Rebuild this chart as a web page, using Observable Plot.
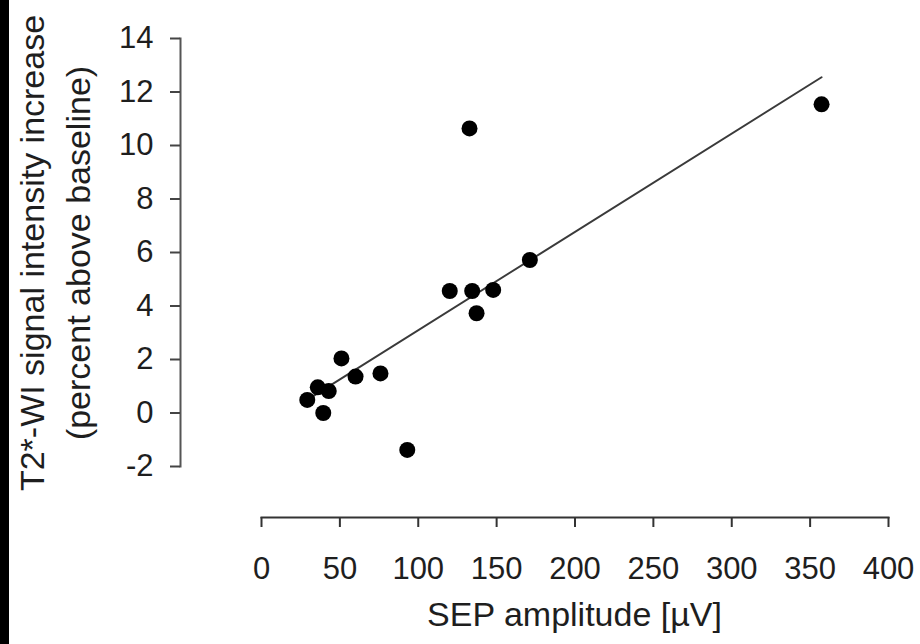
<!DOCTYPE html>
<html>
<head>
<meta charset="utf-8">
<script src="https://cdn.jsdelivr.net/npm/d3@7"></script>
<script src="https://cdn.jsdelivr.net/npm/@observablehq/plot@0.6"></script>
<style>
  html, body { margin: 0; padding: 0; background: #fff; }
  #wrap { position: relative; width: 920px; height: 644px; overflow: hidden; }
  #edge { position: absolute; left: 0; top: 0; width: 9px; height: 644px; background: #000; }
</style>
</head>
<body>
<div id="wrap"><div id="edge"></div></div>
<script>
// SEP amplitude [µV] for each subject
const sepAmplitude = [51.0, 35.9, 42.9, 29.2, 39.4, 60.0, 75.9, 93.0, 132.7, 120.1, 134.4, 147.8, 137.2, 171.2, 357.3];
// T2*-WI signal intensity increase (percent above baseline)
const signalIncrease = [2.04, 0.96, 0.82, 0.49, 0.0, 1.36, 1.48, -1.38, 10.64, 4.56, 4.56, 4.60, 3.73, 5.72, 11.54];

const xTicks = [0, 50, 100, 150, 200, 250, 300, 350, 400];
const yTicks = [-2, 0, 2, 4, 6, 8, 10, 12, 14];
const xLabel = "SEP amplitude [µV]";
const yLabelLines = ["T2*-WI signal intensity increase", "(percent above baseline)"];

const data = sepAmplitude.map((x, i) => ({x, y: signalIncrease[i]}));

const gapX = 81;   // gap between y-axis line and x = 0
const gapY = 51;   // gap between y = -2 and x-axis line

const chart = Plot.plot({
  width: 920,
  height: 644,
  marginLeft: 180,
  marginRight: 32,
  marginTop: 38,
  marginBottom: 127,
  x: {domain: [0, 400], insetLeft: gapX},
  y: {domain: [-2, 14], insetBottom: gapY},
  style: {fontFamily: "'Liberation Sans', Arial, Helvetica, sans-serif", color: "#1e1e1e", background: "transparent"},
  marks: [
    Plot.frame({anchor: "left", insetBottom: gapY, stroke: "#555", strokeWidth: 2}),
    Plot.frame({anchor: "bottom", insetLeft: gapX, stroke: "#333", strokeWidth: 2}),
    Plot.axisY({ticks: yTicks, tickFormat: d => String(d), tickSize: 10, tickPadding: 17, fontSize: 31, label: null, stroke: "#444", strokeWidth: 2}),
    Plot.axisX({ticks: xTicks, tickFormat: d => String(d), tickSize: 10, tickPadding: 29, fontSize: 31, label: null, stroke: "#333", strokeWidth: 2}),
    Plot.linearRegressionY(data, {x: "x", y: "y", ci: 0, stroke: "#3a3a3a", strokeWidth: 2}),
    Plot.dot(data, {x: "x", y: "y", r: 8, fill: "#000", stroke: "none"}),
    Plot.text([xLabel], {text: d => d, frameAnchor: "bottom", textAnchor: "middle", dx: 40, dy: 108, fontSize: 34, fill: "#1e1e1e"}),
    Plot.text([yLabelLines[0]], {text: d => d, frameAnchor: "left", textAnchor: "middle", rotate: -90, dx: -147, dy: -25, fontSize: 34, fill: "#1e1e1e"}),
    Plot.text([yLabelLines[1]], {text: d => d, frameAnchor: "left", textAnchor: "middle", rotate: -90, dx: -101, dy: -25, fontSize: 34, fill: "#1e1e1e"})
  ]
});
document.getElementById("wrap").prepend(chart);
</script>
</body>
</html>
